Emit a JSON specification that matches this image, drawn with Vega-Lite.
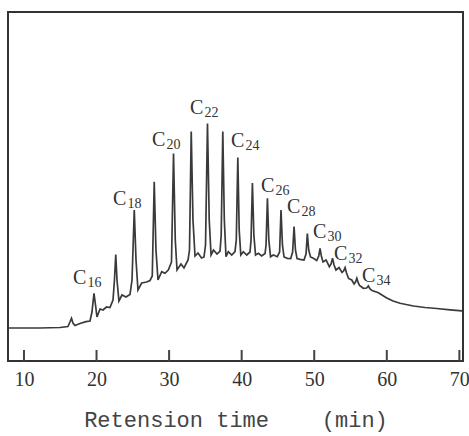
{
  "$schema": "https://vega.github.io/schema/vega-lite/v6.json",
  "width": 455,
  "height": 349,
  "autosize": {"type": "none"},
  "padding": {"left": 8, "top": 12, "right": 6, "bottom": 75},
  "background": "white",
  "config": {"view": {"stroke": "#333333", "strokeWidth": 2}},
  "datasets": {
    "trace": [
      {"t": 7.80, "signal": 33}, {"t": 12.21, "signal": 33}, {"t": 14.96, "signal": 33.5}, {"t": 16.06, "signal": 34.5},
      {"t": 16.34, "signal": 39}, {"t": 16.55, "signal": 42.7}, {"t": 16.75, "signal": 38}, {"t": 17.03, "signal": 35.5},
      {"t": 17.72, "signal": 37.5}, {"t": 18.55, "signal": 39.3}, {"t": 19.10, "signal": 40}, {"t": 19.37, "signal": 49},
      {"t": 19.65, "signal": 67.7}, {"t": 19.86, "signal": 56}, {"t": 20.06, "signal": 44}, {"t": 20.48, "signal": 52},
      {"t": 20.89, "signal": 51}, {"t": 21.37, "signal": 54}, {"t": 21.85, "signal": 53.5}, {"t": 22.27, "signal": 61},
      {"t": 22.47, "signal": 81}, {"t": 22.65, "signal": 106.5}, {"t": 22.82, "signal": 81}, {"t": 23.09, "signal": 60},
      {"t": 23.51, "signal": 66}, {"t": 24.06, "signal": 64}, {"t": 24.61, "signal": 66.5}, {"t": 24.89, "signal": 81},
      {"t": 25.20, "signal": 151}, {"t": 25.44, "signal": 101}, {"t": 25.71, "signal": 71}, {"t": 26.22, "signal": 78},
      {"t": 26.91, "signal": 79}, {"t": 27.37, "signal": 80.5}, {"t": 27.68, "signal": 85}, {"t": 27.95, "signal": 179.3},
      {"t": 28.19, "signal": 111}, {"t": 28.47, "signal": 81}, {"t": 28.98, "signal": 89.3}, {"t": 29.43, "signal": 87.7},
      {"t": 29.89, "signal": 91}, {"t": 30.33, "signal": 99}, {"t": 30.61, "signal": 207.5}, {"t": 30.85, "signal": 121},
      {"t": 31.09, "signal": 91}, {"t": 31.64, "signal": 97}, {"t": 32.05, "signal": 93}, {"t": 32.61, "signal": 101},
      {"t": 32.81, "signal": 111}, {"t": 33.05, "signal": 229.5}, {"t": 33.29, "signal": 141}, {"t": 33.57, "signal": 105},
      {"t": 33.98, "signal": 108}, {"t": 34.47, "signal": 103}, {"t": 34.81, "signal": 104}, {"t": 35.02, "signal": 116},
      {"t": 35.29, "signal": 237.5}, {"t": 35.53, "signal": 141}, {"t": 35.78, "signal": 106}, {"t": 36.12, "signal": 111},
      {"t": 36.60, "signal": 107}, {"t": 37.02, "signal": 110}, {"t": 37.18, "signal": 126}, {"t": 37.40, "signal": 229.5},
      {"t": 37.61, "signal": 141}, {"t": 37.84, "signal": 104.3}, {"t": 38.16, "signal": 109.3}, {"t": 38.63, "signal": 106},
      {"t": 39.08, "signal": 109.3}, {"t": 39.26, "signal": 121}, {"t": 39.47, "signal": 203.5}, {"t": 39.66, "signal": 131},
      {"t": 39.88, "signal": 106}, {"t": 40.23, "signal": 109.3}, {"t": 40.70, "signal": 106}, {"t": 41.15, "signal": 109},
      {"t": 41.29, "signal": 121}, {"t": 41.48, "signal": 178}, {"t": 41.68, "signal": 126}, {"t": 41.91, "signal": 106},
      {"t": 42.30, "signal": 107.7}, {"t": 42.76, "signal": 105}, {"t": 43.22, "signal": 107.5}, {"t": 43.36, "signal": 116},
      {"t": 43.55, "signal": 162.7}, {"t": 43.74, "signal": 121}, {"t": 43.98, "signal": 104.3}, {"t": 44.36, "signal": 106},
      {"t": 44.91, "signal": 104.3}, {"t": 45.23, "signal": 109}, {"t": 45.42, "signal": 151}, {"t": 45.62, "signal": 116},
      {"t": 45.84, "signal": 104}, {"t": 46.29, "signal": 102.7}, {"t": 46.76, "signal": 102.5}, {"t": 47.02, "signal": 109},
      {"t": 47.22, "signal": 134.5}, {"t": 47.41, "signal": 111}, {"t": 47.63, "signal": 102.5}, {"t": 48.04, "signal": 101.7},
      {"t": 48.59, "signal": 101}, {"t": 48.87, "signal": 107}, {"t": 49.05, "signal": 127.5}, {"t": 49.24, "signal": 111},
      {"t": 49.49, "signal": 104}, {"t": 49.88, "signal": 102.7}, {"t": 50.34, "signal": 100.5}, {"t": 50.62, "signal": 105},
      {"t": 50.80, "signal": 112.7}, {"t": 50.98, "signal": 105}, {"t": 51.21, "signal": 99}, {"t": 51.63, "signal": 101},
      {"t": 52.08, "signal": 94.3}, {"t": 52.32, "signal": 97}, {"t": 52.52, "signal": 102.7}, {"t": 52.73, "signal": 96},
      {"t": 53.00, "signal": 91}, {"t": 53.42, "signal": 93.5}, {"t": 53.83, "signal": 88.5}, {"t": 54.04, "signal": 90},
      {"t": 54.25, "signal": 93.5}, {"t": 54.45, "signal": 88}, {"t": 54.73, "signal": 82.5}, {"t": 55.17, "signal": 81},
      {"t": 55.49, "signal": 77}, {"t": 55.69, "signal": 79}, {"t": 55.87, "signal": 82.7}, {"t": 56.07, "signal": 78},
      {"t": 56.24, "signal": 75.5}, {"t": 56.77, "signal": 72.7}, {"t": 57.21, "signal": 73}, {"t": 57.46, "signal": 75},
      {"t": 57.69, "signal": 72}, {"t": 57.97, "signal": 70.5}, {"t": 58.84, "signal": 68.3}, {"t": 59.99, "signal": 63},
      {"t": 60.86, "signal": 60}, {"t": 61.83, "signal": 57.7}, {"t": 63.66, "signal": 55}, {"t": 65.27, "signal": 53.5},
      {"t": 66.89, "signal": 52.5}, {"t": 68.72, "signal": 51.2}, {"t": 70.37, "signal": 50.2}
    ],
    "peaks": [
      {"t": 16.75, "ly": 77, "n": "16"},
      {"t": 22.27, "ly": 156, "n": "18"},
      {"t": 27.64, "ly": 215, "n": "20"},
      {"t": 32.88, "ly": 247, "n": "22"},
      {"t": 38.53, "ly": 214, "n": "24"},
      {"t": 42.67, "ly": 169, "n": "26"},
      {"t": 46.25, "ly": 148, "n": "28"},
      {"t": 49.83, "ly": 123, "n": "30"},
      {"t": 52.73, "ly": 101, "n": "32"},
      {"t": 56.59, "ly": 79, "n": "34"}
    ],
    "ticks": [
      {"t": 10, "y0": 0, "y1": 11}, {"t": 20, "y0": 0, "y1": 11}, {"t": 30, "y0": 0, "y1": 11},
      {"t": 40, "y0": 0, "y1": 11}, {"t": 50, "y0": 0, "y1": 11}, {"t": 60, "y0": 0, "y1": 11},
      {"t": 70, "y0": 0, "y1": 11}
    ]
  },
  "encoding": {
    "x": {
      "field": "t",
      "type": "quantitative",
      "scale": {"domain": [7.8, 70.5], "nice": false, "zero": false},
      "axis": {
        "values": [10, 20, 30, 40, 50, 60, 70],
        "domain": false,
        "ticks": false,
        "grid": false,
        "labelFont": "Liberation Serif",
        "labelFontSize": 20,
        "labelColor": "#333333",
        "labelBaseline": "alphabetic",
        "labelPadding": 24,
        "labelFlush": false,
        "labelOverlap": false,
        "title": "Retension time\u00a0\u00a0\u00a0\u00a0(min)",
        "titleFont": "Liberation Mono",
        "titleFontSize": 22,
        "titleFontWeight": "normal",
        "titleColor": "#444444",
        "titleBaseline": "alphabetic",
        "titleY": 65
      }
    }
  },
  "layer": [
    {
      "data": {"name": "ticks"},
      "mark": {"type": "rule", "color": "#444444", "strokeWidth": 2},
      "encoding": {
        "y": {"field": "y0", "type": "quantitative", "scale": {"domain": [0, 349], "nice": false}, "axis": null},
        "y2": {"field": "y1"}
      }
    },
    {
      "data": {"name": "trace"},
      "mark": {"type": "line", "color": "#3a3a3a", "strokeWidth": 1.7, "strokeJoin": "miter", "strokeMiterLimit": 4},
      "encoding": {
        "y": {"field": "signal", "type": "quantitative", "scale": {"domain": [0, 349], "nice": false}, "axis": null}
      }
    },
    {
      "data": {"name": "peaks"},
      "mark": {"type": "text", "align": "left", "baseline": "alphabetic", "font": "Liberation Serif", "fontSize": 20, "color": "#333333"},
      "encoding": {
        "y": {"field": "ly", "type": "quantitative", "scale": {"domain": [0, 349], "nice": false}, "axis": null},
        "text": {"value": "C"}
      }
    },
    {
      "data": {"name": "peaks"},
      "mark": {"type": "text", "align": "left", "baseline": "alphabetic", "font": "Liberation Serif", "fontSize": 14, "color": "#333333", "dx": 14.5, "dy": 3},
      "encoding": {
        "y": {"field": "ly", "type": "quantitative", "scale": {"domain": [0, 349], "nice": false}, "axis": null},
        "text": {"field": "n", "type": "nominal"}
      }
    }
  ]
}
